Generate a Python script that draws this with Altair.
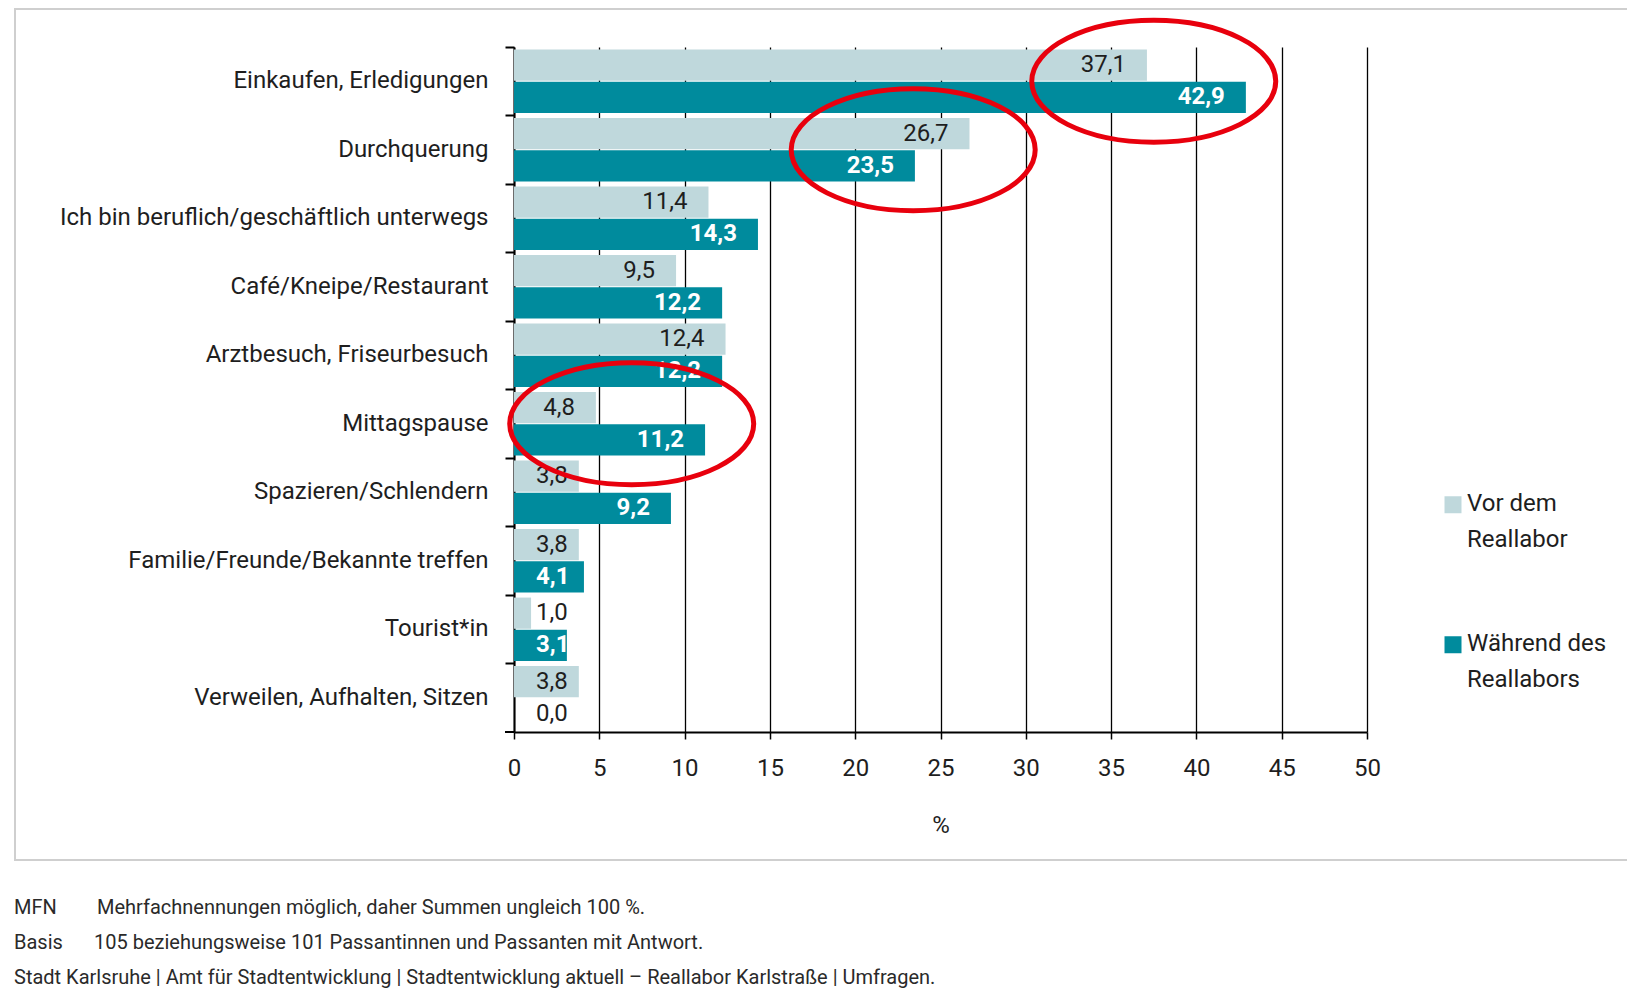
import altair as alt
import pandas as pd

# ---------------- data ----------------
categories = [
    "Einkaufen, Erledigungen",
    "Durchquerung",
    "Ich bin beruflich/geschäftlich unterwegs",
    "Café/Kneipe/Restaurant",
    "Arztbesuch, Friseurbesuch",
    "Mittagspause",
    "Spazieren/Schlendern",
    "Familie/Freunde/Bekannte treffen",
    "Tourist*in",
    "Verweilen, Aufhalten, Sitzen",
]
vor_dem = [37.1, 26.7, 11.4, 9.5, 12.4, 4.8, 3.8, 3.8, 1.0, 3.8]
waehrend = [42.9, 23.5, 14.3, 12.2, 12.2, 11.2, 9.2, 4.1, 3.1, 0.0]
series_names = ["Vor dem Reallabor", "Während des Reallabors"]
series_colors = ["#bfd8dc", "#008b9d"]

x_ticks = [0, 5, 10, 15, 20, 25, 30, 35, 40, 45, 50]

# red highlight ellipses (category, centre value)
ann_categories = ["Einkaufen, Erledigungen", "Durchquerung", "Mittagspause"]
ann_x = [37.5, 23.4, 6.9]

footnote_keys = ["MFN", "Basis"]
footnote_texts = [
    "Mehrfachnennungen möglich, daher Summen ungleich 100 %.",
    "105 beziehungsweise 101 Passantinnen und Passanten mit Antwort.",
]
source_text = "Stadt Karlsruhe | Amt für Stadtentwicklung | Stadtentwicklung aktuell – Reallabor Karlstraße | Umfragen."

# ---------------- tables ----------------
rows = []
for c, v1, v2 in zip(categories, vor_dem, waehrend):
    rows.append({"cat": c, "series": series_names[0], "value": v1})
    rows.append({"cat": c, "series": series_names[1], "value": v2})
df = pd.DataFrame(rows)
df["label"] = df["value"].map(lambda v: f"{v:.1f}".replace(".", ","))

ann = pd.DataFrame({"cat": ann_categories, "x": ann_x})
one = pd.DataFrame({"a": [0]})

FONT = "Roboto"
TXT = "#1e1e1e"
FS = 24
W, H = 853, 685

y_axis = alt.Axis(
    title=None, bandPosition=0, labelFontSize=FS, labelFont=FONT,
    labelColor=TXT, labelPadding=17, labelLimit=700, tickSize=9,
    tickWidth=2, tickColor="black", domainColor="black", domainWidth=2,
    grid=False,
)
y_scale = alt.Scale(paddingInner=0, paddingOuter=0)
y_enc = alt.Y("cat:N", sort=categories, scale=y_scale, axis=y_axis)
yoff = alt.YOffset(
    "series:N", sort=series_names,
    scale=alt.Scale(paddingInner=0.03, paddingOuter=0.08),
)
x_scale = alt.Scale(domain=[0, 50], nice=False)
x_axis = alt.Axis(
    values=x_ticks, title="%", grid=True, gridColor="black",
    gridWidth=1.3, gridOpacity=1, domainColor="black", domainWidth=2,
    tickColor="black", tickWidth=1.5, tickSize=7, labelFontSize=FS,
    labelFont=FONT, labelColor=TXT, labelPadding=17, labelFlush=False,
    titleFontSize=FS, titleFont=FONT, titleColor=TXT,
    titleFontWeight="normal", titlePadding=33,
)
x_enc = alt.X("value:Q", scale=x_scale, axis=x_axis)

base = alt.Chart(df)

LEG_SYMBOL = "M -1 0.5 H 1 V 2.5 H -1 Z"

bars = base.mark_bar().encode(
    y=y_enc,
    yOffset=yoff,
    x=x_enc,
    color=alt.Color(
        "series:N",
        sort=series_names,
        scale=alt.Scale(domain=series_names, range=series_colors),
        legend=alt.Legend(
            title=None, orient="none", legendX=927, legendY=433,
            symbolType=LEG_SYMBOL, symbolSize=289, symbolStrokeWidth=0,
            labelFontSize=FS, labelFont=FONT, labelColor=TXT,
            labelOffset=2, labelLimit=400, rowPadding=68,
            labelBaseline="top",
            labelExpr="datum.label == 'Vor dem Reallabor' ? ['Vor dem', 'Reallabor'] : ['Während des', 'Reallabors']",
        ),
    ),
)

def labels(expr, align, dx, color, weight, at_zero):
    if at_zero:
        xx = alt.X("zero:Q", scale=x_scale, axis=x_axis)
    else:
        xx = x_enc
    return base.transform_filter(expr).transform_calculate(zero="0").mark_text(
        align=align, baseline="middle", dx=dx, fontSize=FS, font=FONT,
        color=color, fontWeight=weight,
    ).encode(y=y_enc, yOffset=yoff, x=xx, text="label:N")

S0, S1 = series_names
lab_light = labels(f"datum.series == '{S0}' && datum.value >= 4.5", "right", -21, TXT, "normal", False)
lab_dark = labels(f"datum.series == '{S1}' && datum.value >= 4.5", "right", -21, "white", "bold", False)
lab_small_light = labels(f"datum.value < 4.5 && (datum.series == '{S0}' || datum.value == 0)", "left", 22, TXT, "normal", True)
lab_small_dark = labels(f"datum.value < 4.5 && datum.series == '{S1}' && datum.value > 0", "left", 22, "white", "bold", True)

ELLIPSE = ("M -1 0 C -1 -0.276 -0.552 -0.5 0 -0.5 C 0.552 -0.5 1 -0.276 1 0 "
           "C 1 0.276 0.552 0.5 0 0.5 C -0.552 0.5 -1 0.276 -1 0 Z")
ellipses = alt.Chart(ann).mark_point(
    shape=ELLIPSE, size=244 ** 2, filled=False, color="#e8000d",
    strokeWidth=5, opacity=1,
).encode(
    y=y_enc,
    x=alt.X("x:Q", scale=x_scale, axis=x_axis),
)

frame = alt.Chart(one).mark_rect(fillOpacity=0, stroke="#cfcfcf", strokeWidth=2).encode(
    x=alt.value(-499), x2=alt.value(1300), y=alt.value(-38), y2=alt.value(813)
)
bottom_tick = alt.Chart(one).mark_rule(color="black", strokeWidth=2).encode(
    x=alt.value(-9), x2=alt.value(0), y=alt.value(H)
)

def note(text, x, y):
    return alt.Chart(one).mark_text(
        align="left", baseline="middle", fontSize=20, font=FONT, color="#2a2a2a"
    ).encode(x=alt.value(x), y=alt.value(y), text=alt.value(text))

notes = [
    note(footnote_keys[0], -500, 861),
    note(footnote_texts[0], -417, 861),
    note(footnote_keys[1], -500, 896),
    note(footnote_texts[1], -420, 896),
    note(source_text, -500, 931),
]

chart = alt.layer(
    frame, bars, lab_light, lab_dark, lab_small_light, lab_small_dark,
    ellipses, bottom_tick, *notes
).properties(
    width=W, height=H,
    padding={"left": 506, "top": 39, "right": 260, "bottom": 261},
    autosize=alt.AutoSizeParams(type="none"),
).configure(
    style={"guide-label": {"lineHeight": 36}}
).configure_view(stroke=None)

chart.save("out.html", embed_options={"renderer": "svg", "actions": False})
